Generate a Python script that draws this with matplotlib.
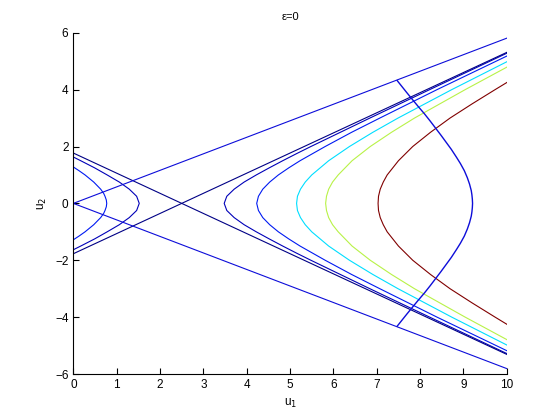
import matplotlib.pyplot as plt

plt.rcParams['font.family'] = ['Liberation Sans', 'DejaVu Sans']

# contour curves (u1, u2), jet colours by level
c0_u1 = [0.0, 10.0]
c0_u2 = [1.77, -5.31]
c0b_u1 = [0.0, 10.0]
c0b_u2 = [-1.77, 5.31]

c1_u1 = [10.0, 8.22, 6.84, 6.16, 5.48, 5.15, 4.83, 4.52, 4.22, 3.94, 3.71, 3.54, 3.48,
         3.54, 3.71, 3.94, 4.22, 4.52, 4.83, 5.15, 5.48, 6.16, 6.84, 8.22, 10.0]
c1_u2 = [-5.28, -4.0, -3.0, -2.5, -2.0, -1.75, -1.5, -1.25, -1.0, -0.75, -0.5, -0.25, 0.0,
         0.25, 0.5, 0.75, 1.0, 1.25, 1.5, 1.75, 2.0, 2.5, 3.0, 4.0, 5.28]
c1l_u1 = [0.0, 0.17, 0.49, 0.78, 1.06, 1.29, 1.46, 1.52, 1.46, 1.29, 1.06, 0.78, 0.49, 0.17, 0.0]
c1l_u2 = [-1.63, -1.5, -1.25, -1.0, -0.75, -0.5, -0.25, 0.0, 0.25, 0.5, 0.75, 1.0, 1.25, 1.5, 1.63]

c2_u1 = [10.0, 8.39, 7.07, 6.42, 5.81, 5.23, 4.97, 4.73, 4.53, 4.37, 4.27, 4.23,
         4.27, 4.37, 4.53, 4.73, 4.97, 5.23, 5.81, 6.42, 7.07, 8.39, 10.0]
c2_u2 = [-5.18, -4.0, -3.0, -2.5, -2.0, -1.5, -1.25, -1.0, -0.75, -0.5, -0.25, 0.0,
         0.25, 0.5, 0.75, 1.0, 1.25, 1.5, 2.0, 2.5, 3.0, 4.0, 5.18]
c2l_u1 = [0.0, 0.13, 0.27, 0.47, 0.63, 0.70, 0.73, 0.76, 0.77, 0.76, 0.73, 0.70, 0.63, 0.47, 0.27, 0.13, 0.0]
c2l_u2 = [-1.28, -1.15, -1.0, -0.75, -0.5, -0.35, -0.25, -0.12, 0.0, 0.12, 0.25, 0.35, 0.5, 0.75, 1.0, 1.15, 1.28]

c3_u1 = [10.0, 8.73, 7.49, 6.91, 6.37, 5.89, 5.50, 5.35, 5.24, 5.17, 5.15,
         5.17, 5.24, 5.35, 5.50, 5.89, 6.37, 6.91, 7.49, 8.73, 10.0]
c3_u2 = [-4.98, -4.0, -3.0, -2.5, -2.0, -1.5, -1.0, -0.75, -0.5, -0.25, 0.0,
         0.25, 0.5, 0.75, 1.0, 1.5, 2.0, 2.5, 3.0, 4.0, 4.98]

c4_u1 = [10.0, 9.04, 7.87, 7.34, 6.85, 6.43, 6.11, 5.98, 5.89, 5.84, 5.82,
         5.84, 5.89, 5.98, 6.11, 6.43, 6.85, 7.34, 7.87, 9.04, 10.0]
c4_u2 = [-4.79, -4.0, -3.0, -2.5, -2.0, -1.5, -1.0, -0.75, -0.5, -0.25, 0.0,
         0.25, 0.5, 0.75, 1.0, 1.5, 2.0, 2.5, 3.0, 4.0, 4.79]

c5_u1 = [10.0, 9.73, 9.20, 8.69, 8.24, 7.83, 7.50, 7.24, 7.15, 7.08, 7.04, 7.03,
         7.04, 7.08, 7.15, 7.24, 7.50, 7.83, 8.24, 8.69, 9.20, 9.73, 10.0]
c5_u2 = [-4.25, -4.0, -3.5, -3.0, -2.5, -2.0, -1.5, -1.0, -0.75, -0.5, -0.25, 0.0,
         0.25, 0.5, 0.75, 1.0, 1.5, 2.0, 2.5, 3.0, 3.5, 4.0, 4.25]

# region boundary (blue)
top_u1 = [0.0, 10.0]
top_u2 = [0.0, 5.81]
bot_u1 = [0.0, 10.0]
bot_u2 = [0.0, -5.81]
arc_u1 = [7.47, 7.69, 7.84, 7.96, 8.10, 8.23, 8.34, 8.48, 8.60, 8.72, 8.84, 8.93, 9.02,
          9.09, 9.14, 9.18, 9.195, 9.205, 9.21,
          9.205, 9.195, 9.18, 9.14, 9.09, 9.02, 8.93, 8.84, 8.72, 8.60, 8.48, 8.34,
          8.23, 8.10, 7.96, 7.84, 7.69, 7.47]
arc_u2 = [4.32, 3.90, 3.62, 3.40, 3.15, 2.90, 2.68, 2.40, 2.15, 1.90, 1.62, 1.40, 1.15,
          0.90, 0.68, 0.45, 0.30, 0.15, 0.0,
          -0.15, -0.30, -0.45, -0.68, -0.90, -1.15, -1.40, -1.62, -1.90, -2.15, -2.40, -2.68,
          -2.90, -3.15, -3.40, -3.62, -3.90, -4.32]

col0 = (0.0, 0.0, 0.52)
col1 = (0.0, 0.0, 0.72)
col2 = (0.0, 0.1, 0.95)
col3 = (0.0, 0.87, 1.0)
col4 = (0.72, 0.95, 0.28)
col5 = (0.5, 0.0, 0.0)
blue = (0.05, 0.05, 0.85)

fig = plt.figure(figsize=(5.6, 4.2), dpi=100)
ax = fig.add_axes([0.131, 0.1095, 0.774, 0.8125])

lw = 0.8
ax.plot(c5_u1, c5_u2, color=col5, lw=lw)
ax.plot(c4_u1, c4_u2, color=col4, lw=lw)
ax.plot(c3_u1, c3_u2, color=col3, lw=lw)
ax.plot(c2_u1, c2_u2, color=col2, lw=lw)
ax.plot(c2l_u1, c2l_u2, color=col2, lw=lw)
ax.plot(c1_u1, c1_u2, color=col1, lw=lw)
ax.plot(c1l_u1, c1l_u2, color=col1, lw=lw)
ax.plot(c0_u1, c0_u2, color=col0, lw=lw)
ax.plot(c0b_u1, c0b_u2, color=col0, lw=lw)

ax.plot(top_u1, top_u2, color=blue, lw=0.8)
ax.plot(bot_u1, bot_u2, color=blue, lw=0.8)
ax.plot(arc_u1, arc_u2, color=blue, lw=1.0)

ax.set_xlim(0, 10)
ax.set_ylim(-6, 6)
ax.set_xticks(range(0, 11))
ax.set_yticks(range(-6, 7, 2))
ax.spines['top'].set_visible(False)
ax.spines['right'].set_visible(False)
ax.tick_params(direction='in', length=4, labelsize=8.5, width=0.8)
ax.set_title('ε=0', fontsize=8, pad=9)
ax.set_xlabel('u$_1$', fontsize=8.5)
ax.set_ylabel('u$_2$', fontsize=8.5)

fig.savefig('out.png', dpi=100)
